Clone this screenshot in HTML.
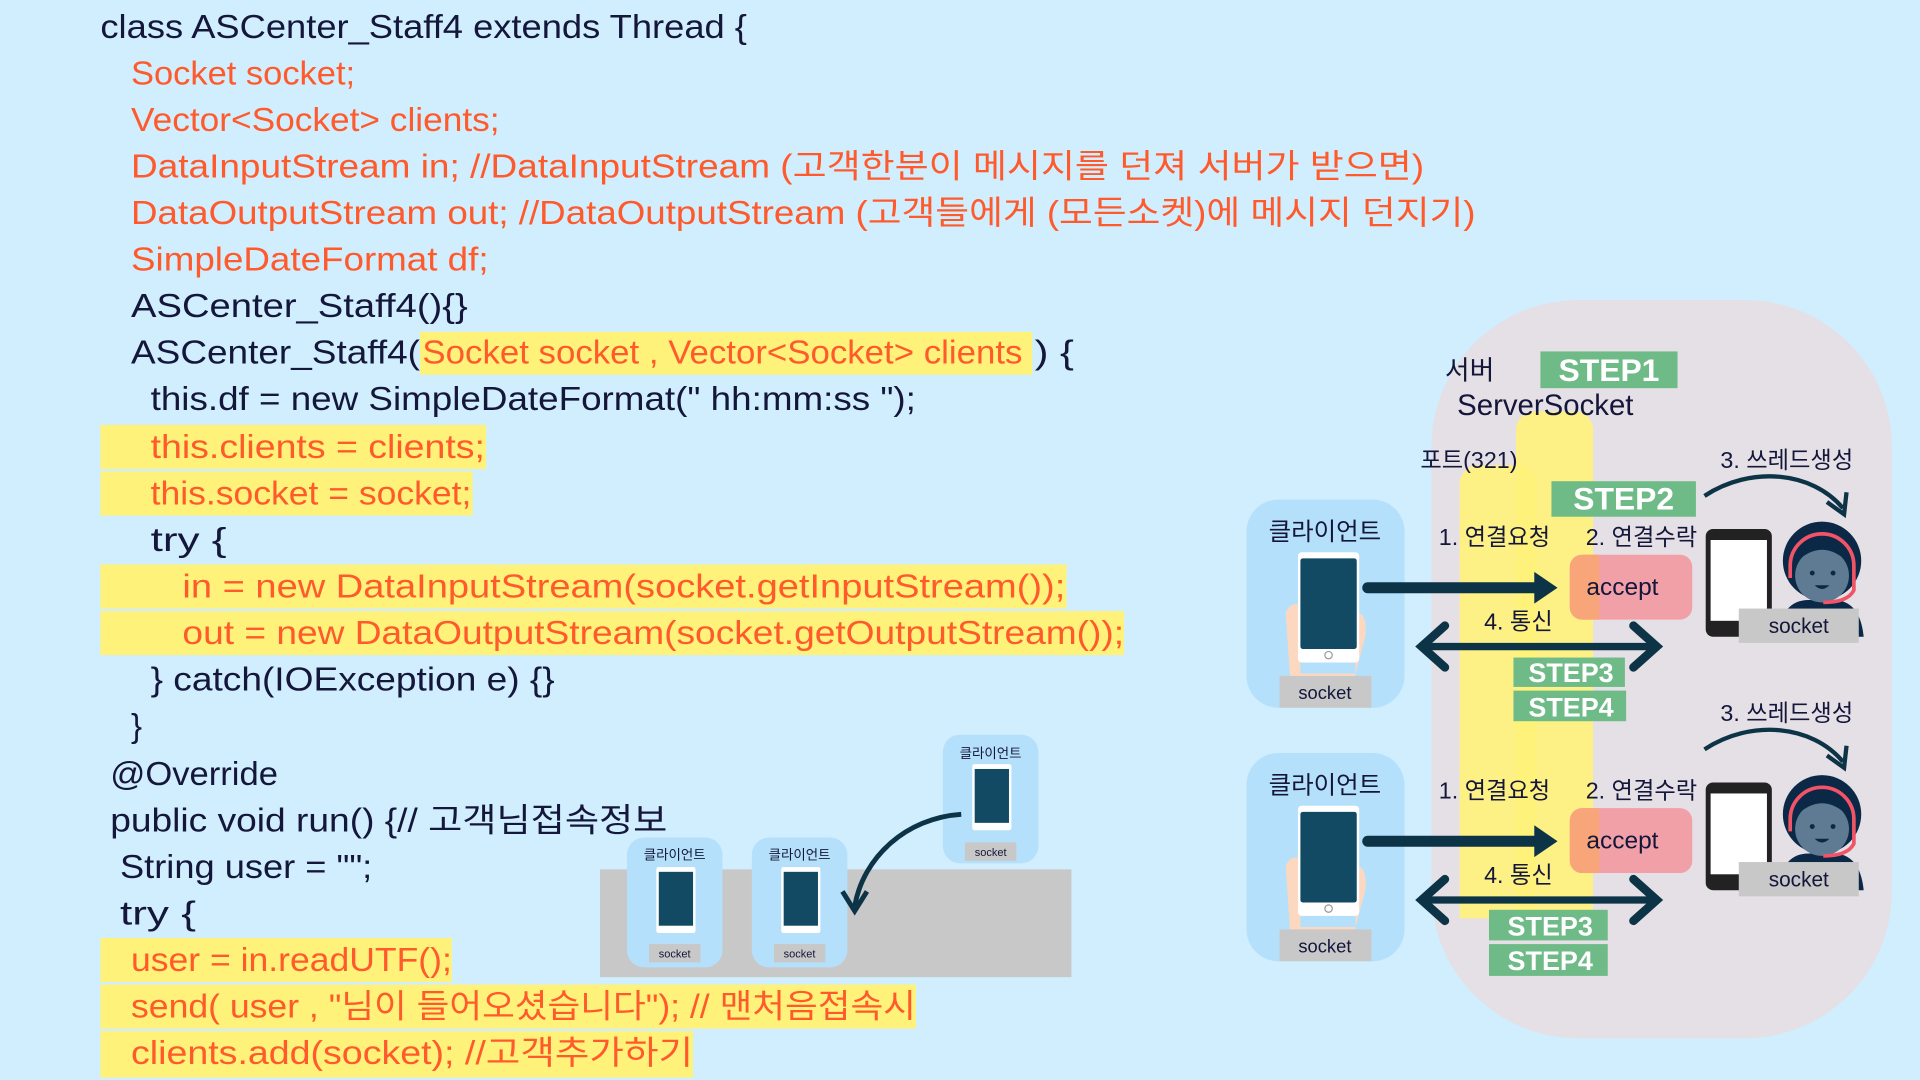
<!DOCTYPE html>
<html><head><meta charset="utf-8"><style>
html,body{margin:0;padding:0;background:#d0eefd;overflow:hidden}
svg{display:block}
text{font-family:"Liberation Sans","Noto Sans CJK KR",sans-serif}
.c{font-size:27px}
.d{fill:#14163a}
.r{fill:#ff5a2c}
.s{font-size:19px;fill:#14163a}
.st{font-size:26px;fill:#fff;font-weight:bold}
</style></head><body>
<svg width="1920" height="1080" viewBox="0 0 1568 882" xmlns="http://www.w3.org/2000/svg">
<rect width="1568" height="882" fill="#d0eefd"/>
<g fill="#fff27a">
<rect x="343" y="271" width="500" height="35"/>
<rect x="82" y="347" width="315" height="36"/>
<rect x="82" y="385" width="304" height="36"/>
<rect x="82" y="461" width="789" height="36"/>
<rect x="82" y="499" width="836" height="36"/>
<rect x="82" y="766" width="287" height="36"/>
<rect x="82" y="804" width="666" height="36"/>
<rect x="82" y="842" width="484" height="38"/>
</g>
<g class="c">
<text x="82" y="31" class="d" textLength="528" lengthAdjust="spacingAndGlyphs">class ASCenter_Staff4 extends Thread {</text>
<text x="107" y="69" class="r" textLength="183" lengthAdjust="spacingAndGlyphs">Socket socket;</text>
<text x="107" y="107" class="r" textLength="301" lengthAdjust="spacingAndGlyphs">Vector&lt;Socket&gt; clients;</text>
<text x="107" y="145" class="r" textLength="1056" lengthAdjust="spacingAndGlyphs">DataInputStream in; //DataInputStream (고객한분이 메시지를 던져 서버가 받으면)</text>
<text x="107" y="183" class="r" textLength="1098" lengthAdjust="spacingAndGlyphs">DataOutputStream out; //DataOutputStream (고객들에게 (모든소켓)에 메시지 던지기)</text>
<text x="107" y="221" class="r" textLength="292" lengthAdjust="spacingAndGlyphs">SimpleDateFormat df;</text>
<text x="107" y="259" class="d" textLength="275" lengthAdjust="spacingAndGlyphs">ASCenter_Staff4(){}</text>
<text x="107" y="297" class="d" textLength="236" lengthAdjust="spacingAndGlyphs">ASCenter_Staff4(</text>
<text x="345" y="297" class="r" textLength="490" lengthAdjust="spacingAndGlyphs">Socket socket , Vector&lt;Socket&gt; clients</text>
<text x="845" y="297" class="d" textLength="32" lengthAdjust="spacingAndGlyphs">) {</text>
<text x="123" y="335" class="d" textLength="625" lengthAdjust="spacingAndGlyphs">this.df = new SimpleDateFormat(" hh:mm:ss ");</text>
<text x="123" y="374" class="r" textLength="273" lengthAdjust="spacingAndGlyphs">this.clients = clients;</text>
<text x="123" y="412" class="r" textLength="262" lengthAdjust="spacingAndGlyphs">this.socket = socket;</text>
<text x="123" y="450" class="d" textLength="62" lengthAdjust="spacingAndGlyphs">try {</text>
<text x="149" y="488" class="r" textLength="721" lengthAdjust="spacingAndGlyphs">in = new DataInputStream(socket.getInputStream());</text>
<text x="149" y="526" class="r" textLength="769" lengthAdjust="spacingAndGlyphs">out = new DataOutputStream(socket.getOutputStream());</text>
<text x="123" y="564" class="d" textLength="330" lengthAdjust="spacingAndGlyphs">} catch(IOException e) {}</text>
<text x="107" y="602" class="d">}</text>
<text x="90" y="641" class="d" textLength="137" lengthAdjust="spacingAndGlyphs">@Override</text>
<text x="90" y="679" class="d" textLength="455" lengthAdjust="spacingAndGlyphs">public void run() {// 고객님접속정보</text>
<text x="98" y="717" class="d" textLength="206" lengthAdjust="spacingAndGlyphs">String user = "";</text>
<text x="98" y="755" class="d" textLength="62" lengthAdjust="spacingAndGlyphs">try {</text>
<text x="107" y="793" class="r" textLength="262" lengthAdjust="spacingAndGlyphs">user = in.readUTF();</text>
<text x="107" y="831" class="r" textLength="641" lengthAdjust="spacingAndGlyphs">send( user , "님이 들어오셨습니다"); // 맨처음접속시</text>
<text x="107" y="869" class="r" textLength="459" lengthAdjust="spacingAndGlyphs">clients.add(socket); //고객추가하기</text>
</g>

<rect x="490" y="710" width="385" height="88" fill="#c8c8c8"/>
<g>
<rect x="512" y="684" width="78" height="106" rx="14" fill="#b5e0fb"/>
<text x="551" y="702" font-size="11" text-anchor="middle" fill="#14163a">클라이언트</text>
<rect x="536" y="708" width="32" height="54" fill="#fff" rx="2"/><rect x="538" y="712" width="28" height="44" fill="#134a63"/>
<rect x="530" y="771" width="42" height="15" fill="#c8c8c8"/><text x="551" y="782" font-size="9" text-anchor="middle" fill="#14163a">socket</text>
<rect x="614" y="684" width="78" height="106" rx="14" fill="#b5e0fb"/>
<text x="653" y="702" font-size="11" text-anchor="middle" fill="#14163a">클라이언트</text>
<rect x="638" y="708" width="32" height="54" fill="#fff" rx="2"/><rect x="640" y="712" width="28" height="44" fill="#134a63"/>
<rect x="632" y="771" width="42" height="15" fill="#c8c8c8"/><text x="653" y="782" font-size="9" text-anchor="middle" fill="#14163a">socket</text>
<rect x="770" y="600" width="78" height="105" rx="14" fill="#b5e0fb"/>
<text x="809" y="619" font-size="11" text-anchor="middle" fill="#14163a">클라이언트</text>
<rect x="794" y="624" width="32" height="54" fill="#fff" rx="2"/><rect x="796" y="628" width="28" height="44" fill="#134a63"/>
<rect x="788" y="688" width="42" height="15" fill="#c8c8c8"/><text x="809" y="699" font-size="9" text-anchor="middle" fill="#14163a">socket</text>
<path d="M785 665 C740 668 705 700 698 740" stroke="#0d3347" stroke-width="4" fill="none"/>
<path d="M688 728 L698 744 L708 728" stroke="#0d3347" stroke-width="4" fill="none"/>
</g>

<rect x="1169" y="245" width="376" height="603" rx="120" fill="#e4e0e5"/>
<path d="M1192 750 V395 a15 15 0 0 1 15 -15 H1240 a15 15 0 0 1 15 15 V750Z" fill="#fff27a" opacity="0.9"/>
<path d="M1238 750 V351 a15 15 0 0 1 15 -15 H1286 a15 15 0 0 1 15 15 V750Z" fill="#fff27a" opacity="0.9"/>
<rect x="1258" y="287" width="112" height="30" fill="#6fbb88"/><text x="1314" y="311" class="st" text-anchor="middle">STEP1</text>
<text x="1180" y="310" font-size="22" fill="#14163a">서버</text>
<text x="1190" y="339" font-size="24" fill="#14163a">ServerSocket</text>
<text x="1160" y="382" class="s">포트(321)</text>
<rect x="1267" y="393" width="118" height="29" fill="#6fbb88"/><text x="1326" y="416" class="st" text-anchor="middle">STEP2</text>

<g id="row">
<text x="1405" y="382" class="s">3. 쓰레드생성</text>
<path d="M1392 405 C1430 380 1480 385 1505 415" stroke="#0d3347" stroke-width="3.5" fill="none"/>
<path d="M1492 410 L1506 420 L1508 402" stroke="#0d3347" stroke-width="3.5" fill="none"/>
<rect x="1018" y="408" width="129" height="170" rx="26" fill="#b5e0fb"/>
<text x="1082" y="441" font-size="20" text-anchor="middle" fill="#14163a">클라이언트</text>
<path d="M1050 500 q5 -10 12 -5 v55 h45 v-50 q10 0 8 20 l-8 30 l-4 25 h-48 z" fill="#fdd8c0"/>
<rect x="1060" y="451" width="50" height="90" rx="3" fill="#fff"/>
<rect x="1062" y="456" width="46" height="74" rx="2" fill="#134a63"/>
<circle cx="1085" cy="535" r="3" fill="none" stroke="#999"/>
<rect x="1045" y="552" width="75" height="26" fill="#c8c8c8"/>
<text x="1082" y="571" font-size="15" text-anchor="middle" fill="#14163a">socket</text>
<text x="1175" y="445" class="s">1. 연결요청</text>
<text x="1295" y="445" class="s">2. 연결수락</text>
<rect x="1282" y="453" width="100" height="53" rx="10" fill="#f2a0a8"/>
<rect x="1282" y="453" width="24" height="53" rx="10" fill="#f8a57a"/><rect x="1296" y="453" width="10" height="53" fill="#f8a57a"/>
<text x="1325" y="486" font-size="20" text-anchor="middle" fill="#14163a">accept</text>
<line x1="1117" y1="480" x2="1258" y2="480" stroke="#0d3347" stroke-width="9" stroke-linecap="round"/>
<path d="M1253 467 L1272 480 L1253 493Z" fill="#0d3347"/>
<text x="1212" y="514" class="s">4. 통신</text>
<line x1="1162" y1="528" x2="1352" y2="528" stroke="#0d3347" stroke-width="6"/>
<path d="M1180 511 L1161 528 L1180 545 M1334 511 L1353 528 L1334 545" stroke="#0d3347" stroke-width="7" fill="none" stroke-linecap="round"/>
<rect x="1393" y="432" width="54" height="88" rx="6" fill="#222"/>
<rect x="1397" y="441" width="46" height="66" fill="#fff"/>
<path d="M1452 520 q3 -30 25 -30 h20 q22 0 25 30z" fill="#0b2846"/>
<circle cx="1488" cy="458" r="32" fill="#0b2846"/>
<ellipse cx="1488" cy="470" rx="22" ry="22" fill="#5f7a93"/>
<path d="M1464 462 q24 -26 48 0 v-12 q-24 -24 -48 0z" fill="#0b2846"/>
<circle cx="1480" cy="468" r="2" fill="#0b2846"/><circle cx="1497" cy="468" r="2" fill="#0b2846"/>
<path d="M1482 478 q6 6 12 0z" fill="#0b2846"/>
<path d="M1462 472 v-10 a26 26 0 0 1 52 0 v20 q-5 10 -25 10" stroke="#f05466" stroke-width="3" fill="none"/>
<rect x="1420" y="497" width="98" height="28" fill="#c8c8c8"/>
<text x="1469" y="517" font-size="17" text-anchor="middle" fill="#14163a">socket</text>
</g>
<use href="#row" transform="translate(0,207)"/>

<rect x="1236" y="537" width="91" height="24" fill="#6fbb88"/><text x="1283" y="557" font-size="22" font-weight="bold" fill="#fff" text-anchor="middle">STEP3</text>
<rect x="1236" y="564" width="92" height="25" fill="#6fbb88"/><text x="1283" y="585" font-size="22" font-weight="bold" fill="#fff" text-anchor="middle">STEP4</text>
<rect x="1216" y="743" width="97" height="25" fill="#6fbb88"/><text x="1266" y="764" font-size="22" font-weight="bold" fill="#fff" text-anchor="middle">STEP3</text>
<rect x="1216" y="771" width="97" height="26" fill="#6fbb88"/><text x="1266" y="792" font-size="22" font-weight="bold" fill="#fff" text-anchor="middle">STEP4</text>
</svg>
</body></html>
